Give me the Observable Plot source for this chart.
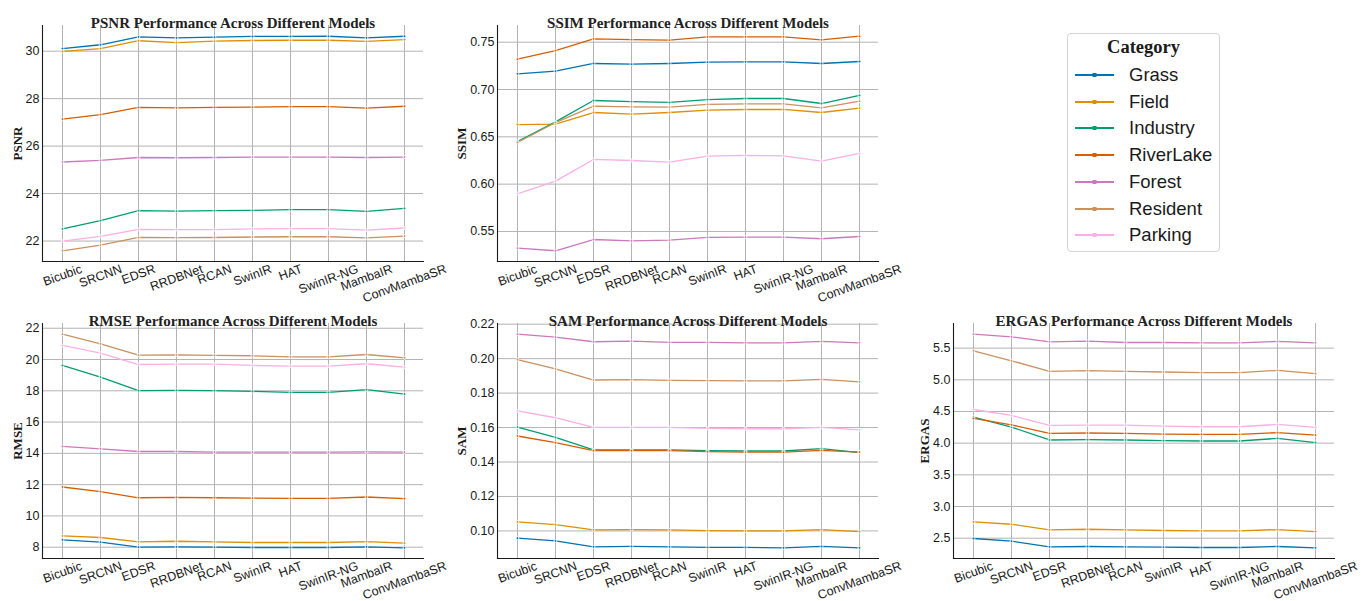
<!DOCTYPE html>
<html>
<head>
<meta charset="utf-8">
<script src="https://cdn.jsdelivr.net/npm/d3@7"></script>
<script src="https://cdn.jsdelivr.net/npm/@observablehq/plot@0.6"></script>
<style>
  html, body { margin: 0; padding: 0; background: #fff; }
  #root { position: relative; width: 1372px; height: 601px; overflow: hidden; background: #fff; }
  .panel { position: absolute; }
  #legend { position: absolute; left: 1067px; top: 33px; width: 153px; height: 219px; border: 1px solid #d4d4d4; border-radius: 4px; box-sizing: border-box; font-family: "Liberation Sans", Arial, sans-serif; }
  #legend .ttl { position: absolute; left: 0; width: 100%; top: 3px; text-align: center; font-family: "Liberation Serif", "Times New Roman", serif; font-weight: bold; font-size: 18.5px; color: #1a1a1a; }
  #legend .row { position: absolute; left: 7px; height: 26px; display: flex; align-items: center; font-size: 18.5px; color: #1a1a1a; }
  #legend .row svg { margin-right: 15px; }
</style>
</head>
<body>
<div id="root"></div>
<script>
const models = ["Bicubic","SRCNN","EDSR","RRDBNet","RCAN","SwinIR","HAT","SwinIR-NG","MambaIR","ConvMambaSR"];
const categories = ["Grass","Field","Industry","RiverLake","Forest","Resident","Parking"];
const colors = ["#0173b2","#de8f05","#029e73","#d55e00","#cc78bc","#ca9161","#fbafe4"];

// rows follow `categories` order
const psnr = [
  [30.11,30.27,30.60,30.56,30.59,30.62,30.62,30.63,30.56,30.63],
  [29.99,30.11,30.44,30.36,30.42,30.45,30.46,30.46,30.41,30.49],
  [22.51,22.86,23.28,23.26,23.28,23.29,23.32,23.32,23.25,23.38],
  [27.14,27.33,27.63,27.61,27.63,27.64,27.66,27.66,27.60,27.68],
  [25.33,25.40,25.52,25.51,25.52,25.54,25.54,25.54,25.52,25.54],
  [21.59,21.83,22.15,22.14,22.15,22.17,22.18,22.18,22.13,22.21],
  [22.00,22.20,22.49,22.48,22.48,22.51,22.52,22.52,22.46,22.55]
];
const ssim = [
  [0.7166,0.7194,0.7275,0.7268,0.7275,0.7289,0.7292,0.7292,0.7275,0.7296],
  [0.6630,0.6634,0.6757,0.6740,0.6757,0.6782,0.6789,0.6789,0.6757,0.6803],
  [0.6451,0.6658,0.6884,0.6873,0.6863,0.6894,0.6905,0.6905,0.6852,0.6937],
  [0.7320,0.7410,0.7535,0.7528,0.7521,0.7556,0.7556,0.7556,0.7525,0.7563],
  [0.5324,0.5296,0.5415,0.5401,0.5408,0.5437,0.5440,0.5440,0.5423,0.5447],
  [0.6440,0.6651,0.6824,0.6817,0.6813,0.6842,0.6849,0.6849,0.6806,0.6877],
  [0.5898,0.6032,0.6261,0.6250,0.6232,0.6296,0.6303,0.6299,0.6243,0.6324]
];
const rmse = [
  [8.47,8.32,8.00,8.02,8.00,7.98,7.98,7.98,8.02,7.96],
  [8.72,8.62,8.34,8.38,8.34,8.30,8.30,8.30,8.36,8.26],
  [19.62,18.88,18.01,18.03,18.01,17.96,17.90,17.90,18.07,17.79],
  [11.85,11.55,11.16,11.19,11.16,11.14,11.12,11.12,11.21,11.10],
  [14.44,14.29,14.12,14.12,14.08,14.08,14.08,14.08,14.10,14.08],
  [21.62,21.00,20.28,20.30,20.26,20.24,20.17,20.17,20.32,20.11],
  [20.90,20.41,19.68,19.71,19.71,19.62,19.58,19.58,19.73,19.51]
];
const sam = [
  [0.0958,0.0942,0.0908,0.0910,0.0908,0.0904,0.0904,0.0902,0.0910,0.0902],
  [0.1052,0.1037,0.1006,0.1008,0.1006,0.1002,0.1000,0.1000,0.1008,0.0996],
  [0.1603,0.1543,0.1470,0.1470,0.1470,0.1466,0.1464,0.1464,0.1478,0.1455],
  [0.1551,0.1512,0.1466,0.1466,0.1466,0.1460,0.1458,0.1457,0.1468,0.1458],
  [0.2142,0.2125,0.2098,0.2102,0.2094,0.2094,0.2092,0.2092,0.2100,0.2092],
  [0.1994,0.1940,0.1876,0.1878,0.1874,0.1873,0.1871,0.1871,0.1880,0.1865],
  [0.1697,0.1657,0.1601,0.1601,0.1601,0.1595,0.1593,0.1593,0.1601,0.1587]
];
const ergas = [
  [2.495,2.453,2.364,2.369,2.364,2.359,2.353,2.353,2.369,2.348],
  [2.757,2.720,2.631,2.641,2.631,2.621,2.615,2.615,2.636,2.605],
  [4.411,4.254,4.050,4.055,4.050,4.039,4.034,4.034,4.076,4.008],
  [4.390,4.290,4.155,4.160,4.155,4.144,4.139,4.139,4.165,4.128],
  [5.720,5.678,5.600,5.610,5.589,5.589,5.584,5.584,5.605,5.584],
  [5.458,5.300,5.133,5.144,5.133,5.123,5.113,5.113,5.149,5.097],
  [4.531,4.437,4.280,4.285,4.285,4.270,4.259,4.259,4.296,4.249]
];

const psnrTicks = [22,24,26,28,30];
const ssimTicks = [0.55,0.60,0.65,0.70,0.75];
const rmseTicks = [8,10,12,14,16,18,20,22];
const samTicks = [0.10,0.12,0.14,0.16,0.18,0.20,0.22];
const ergasTicks = [2.5,3.0,3.5,4.0,4.5,5.0,5.5];

const SANS = "'Liberation Sans', Arial, sans-serif";
const SERIF = "'Liberation Serif', 'Times New Roman', serif";
const TICK_FS = 12.5;

const canvas = document.createElement("canvas");
const ctx = canvas.getContext("2d");
ctx.font = `${TICK_FS}px 'Liberation Sans', Arial, sans-serif`;
const sin20 = Math.sin(20 * Math.PI / 180);

function panel({metric, values, ticks, fmt, left, top, height, mt, mb}) {
  const data = [];
  categories.forEach((c, i) => models.forEach((m, j) => data.push({model: m, category: c, value: values[i][j]})));
  const ext = d3.extent(data, d => d.value);
  const pad = (ext[1] - ext[0]) * 0.05;
  const tickW = d3.max(ticks, t => ctx.measureText(fmt(t)).width);
  const xLabels = models.map(m => {
    const w = ctx.measureText(m).width;
    return Plot.text([m], {x: d => d, text: d => d, frameAnchor: "bottom", rotate: -20,
      dy: 7.0 + w * sin20 / 2, textAnchor: "middle", lineAnchor: "middle", fontSize: TICK_FS, fill: "#1a1a1a"});
  });
  const chart = Plot.plot({
    width: 460, height, marginLeft: 42, marginRight: 37, marginTop: mt, marginBottom: mb,
    style: {fontFamily: SANS, fontSize: TICK_FS + "px", color: "#1a1a1a", background: "transparent", overflow: "visible"},
    x: {type: "point", domain: models, padding: 0.45, axis: null},
    y: {domain: [ext[0] - pad, ext[1] + pad]},
    color: {domain: categories, range: colors},
    marks: [
      Plot.gridX(models, {stroke: "#b3b3b3", strokeOpacity: 1, strokeWidth: 1}),
      Plot.gridY(ticks, {stroke: "#b3b3b3", strokeOpacity: 1, strokeWidth: 1}),
      Plot.axisY(ticks, {tickSize: 0, tickPadding: 3, tickFormat: fmt, label: null, fontSize: TICK_FS}),
      Plot.frame({anchor: "left", stroke: "#1a1a1a", strokeWidth: 1.1}),
      Plot.frame({anchor: "bottom", stroke: "#1a1a1a", strokeWidth: 1.1}),
      Plot.lineY(data, {x: "model", y: "value", z: "category", stroke: "category", strokeWidth: 1.3}),
      Plot.dot(data, {x: "model", y: "value", fill: "category", stroke: "white", strokeWidth: 0.9, r: 1.4}),
      ...xLabels,
      Plot.text([`${metric} Performance Across Different Models`], {text: d => d, frameAnchor: "top", dy: -8,
        fontFamily: SERIF, fontWeight: "bold", fontSize: 15, fill: "#222", textAnchor: "middle"}),
      Plot.text([metric], {text: d => d, frameAnchor: "left", dx: -(tickW + 11), rotate: -90, textAnchor: "middle",
        lineAnchor: "middle", fontFamily: SERIF, fontWeight: "bold", fontSize: 13, fill: "#1a1a1a"})
    ]
  });
  chart.classList.add("panel");
  chart.style.left = left + "px";
  chart.style.top = top + "px";
  return chart;
}

const root = document.getElementById("root");
const f2 = d3.format(".2f"), f0 = d3.format("d"), f1 = d3.format(".1f");
root.appendChild(panel({metric: "PSNR", values: psnr, ticks: psnrTicks, fmt: f0, left: 0, top: 0, height: 298, mt: 25, mb: 37}));
root.appendChild(panel({metric: "SSIM", values: ssim, ticks: ssimTicks, fmt: f2, left: 455, top: 0, height: 298, mt: 25, mb: 37}));
root.appendChild(panel({metric: "RMSE", values: rmse, ticks: rmseTicks, fmt: f0, left: 0, top: 298, height: 303, mt: 25, mb: 43}));
root.appendChild(panel({metric: "SAM", values: sam, ticks: samTicks, fmt: f2, left: 455, top: 298, height: 303, mt: 25, mb: 43}));
root.appendChild(panel({metric: "ERGAS", values: ergas, ticks: ergasTicks, fmt: f1, left: 911, top: 298, height: 303, mt: 25, mb: 43}));

// legend
const legend = d3.select(root).append("div").attr("id", "legend");
legend.append("div").attr("class", "ttl").text("Category");
categories.forEach((c, i) => {
  const row = legend.append("div").attr("class", "row").style("top", (28 + i * 26.7) + "px");
  const s = row.append("svg").attr("width", 39).attr("height", 10);
  s.append("line").attr("x1", 0).attr("x2", 39).attr("y1", 5).attr("y2", 5).attr("stroke", colors[i]).attr("stroke-width", 1.8);
  s.append("rect").attr("x", 17.5).attr("y", 3).attr("width", 4).attr("height", 4).attr("fill", colors[i]);
  row.append("span").text(c);
});
</script>
</body>
</html>
